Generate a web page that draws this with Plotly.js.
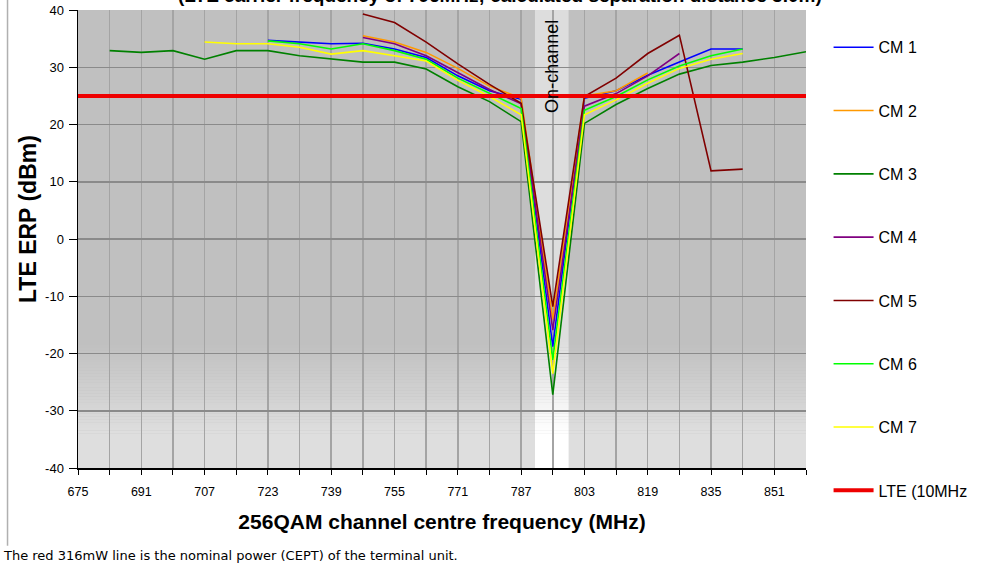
<!DOCTYPE html>
<html><head><meta charset="utf-8">
<script src="https://cdn.plot.ly/plotly-3.0.1.min.js"></script>
<style>html,body{margin:0;padding:0;background:#fff;}#chart{width:982px;height:564px;}</style>
</head><body><div id="chart"></div>
<script>
const freq = [675,683,691,699,707,715,723,731,739,747,755,763,771,779,787,795,803,811,819,827,835,843,851,859];
const tickLabels = ['675','691','707','723','739','755','771','787','803','819','835','851'];
const tickPos = [675,691,707,723,739,755,771,787,803,819,835,851];
const yTickVals = [-40,-30,-20,-10,0,10,20,30,40];
const yTickLabels = ['-40','-30','-20','-10','0','10','20','30','40'];
const N = null;
const cm1 = [N,N,N,N,N,N,34.7,34.4,34.1,34.2,33.2,31.7,28.5,25.9,24.4,-18.8,24.6,25.9,28.6,30.9,33.2,33.2,N,N];
const cm2 = [N,N,N,N,N,N,N,N,N,35.5,34.4,32.6,29.8,26.7,24.6,-14.1,25.0,25.9,29.0,N,N,N,N,N];
const cm3 = [N,32.9,32.6,32.9,31.4,32.9,32.9,32.0,31.4,30.9,30.9,29.7,26.6,24.0,20.5,-27.2,20.2,23.5,26.3,28.8,30.3,30.9,31.7,32.7];
const cm4 = [N,N,N,N,N,N,N,N,N,35.2,34.1,32.0,29.0,26.1,23.6,-15.9,23.2,25.4,28.5,32.4,N,N,N,N];
const cm5 = [N,N,N,N,N,N,N,N,N,39.3,37.8,34.4,30.6,27.0,23.7,-11.8,24.9,28.1,32.4,35.6,11.9,12.2,N,N];
const cm6 = [N,N,N,N,N,N,34.6,34.1,33.2,34.1,32.9,31.4,28.1,25.4,22.8,-21.1,22.5,24.9,27.8,30.2,32.0,33.2,N,N];
const cm7 = [N,N,N,N,34.4,34.1,34.1,33.5,32.3,32.9,32.0,31.1,27.7,24.9,21.7,-23.5,21.7,24.3,27.2,29.8,31.4,32.4,N,N];
const lte = [25,25,25,25,25,25,25,25,25,25,25,25,25,25,25,25,25,25,25,25,25,25,25,25];
const seriesNames = ['CM 1','CM 2','CM 3','CM 4','CM 5','CM 6','CM 7','LTE (10MHz'];
const seriesColors = ['#0000ff','#ff9900','#008000','#800080','#800000','#00ff00','#ffff00','#ee0000'];
const seriesData = [cm1,cm2,cm3,cm4,cm5,cm6,cm7,lte];

const traces = seriesData.map((d,i)=>({
  x: freq, y: d, type:'scatter', mode:'lines', name: seriesNames[i],
  legendgroup: 'g'+i,
  line:{color: seriesColors[i], width: i===7?4:1.6},
  connectgaps:false, hoverinfo:'skip'
}));

// background gradient bands (style only)
const shapes = [];
const bandL = 790.5, bandR = 799;
function grey(v){v=Math.round(Math.min(255,v));return 'rgb('+v+','+v+','+v+')';}
const gTop=-18, gBot=-34, steps=32;
shapes.push({type:'rect',xref:'x',yref:'y',x0:bandL,x1:bandR,y0:gTop,y1:40,fillcolor:grey(221),line:{width:0},layer:'below'});
for(let k=0;k<steps;k++){
  const y1 = gTop + (gBot-gTop)*k/steps, y0 = gTop + (gBot-gTop)*(k+1)/steps;
  const t=(k+0.5)/steps;
  shapes.push({type:'rect',xref:'paper',yref:'y',x0:0,x1:1,y0:y0,y1:y1,fillcolor:grey(192+30*t),line:{width:0},layer:'below'});
  shapes.push({type:'rect',xref:'x',yref:'y',x0:bandL,x1:bandR,y0:y0,y1:y1,fillcolor:grey(221+34*t),line:{width:0},layer:'below'});
}
shapes.push({type:'rect',xref:'paper',yref:'y',x0:0,x1:1,y0:-40,y1:gBot,fillcolor:grey(222),line:{width:0},layer:'below'});
shapes.push({type:'rect',xref:'x',yref:'y',x0:bandL,x1:bandR,y0:-40,y1:gBot,fillcolor:grey(255),line:{width:0},layer:'below'});
// chart frame line on the left
shapes.push({type:'line',xref:'paper',yref:'paper',x0:-0.0968,x1:-0.0968,y0:-0.17,y1:1.03,line:{color:'#b0b0b0',width:1.5}});

const font = 'Liberation Sans, Arial, sans-serif';
const layout = {
  width:982, height:564,
  margin:{l:78,r:176,t:10,b:96,autoexpand:false},
  paper_bgcolor:'#ffffff', plot_bgcolor:'#c0c0c0',
  font:{family:font,color:'#000',size:12},
  showlegend:true,
  legend:{x:1.031,y:0.9556,xanchor:'left',yanchor:'top',traceorder:'grouped',tracegroupgap:39.5,maxheight:560,
          font:{family:font,size:16,color:'#000'},bgcolor:'rgba(0,0,0,0)',itemwidth:40},
  xaxis:{range:[675,859],tickmode:'array',tickvals:tickPos,ticktext:tickLabels,
         showgrid:true,gridcolor:'#a4a4a4',gridwidth:1.5,
         ticks:'outside',ticklen:5,tickcolor:'#000',showline:true,linecolor:'#000',linewidth:1.5,
         ticklabelstandoff:6,zeroline:false,
         minor:{dtick:8,tick0:675,showgrid:true,gridcolor:'#a4a4a4',gridwidth:1.5,ticks:'outside',ticklen:5,tickcolor:'#000'},
         tickfont:{size:12.5,family:font},
         title:{text:'256QAM channel centre frequency (MHz)',font:{size:21,family:font,weight:'bold'},standoff:17}},
  yaxis:{range:[-40,40],tickmode:'array',tickvals:yTickVals,ticktext:yTickLabels,showgrid:true,gridcolor:'#8a8a8a',gridwidth:1.5,
         ticks:'outside',ticklen:8,tickcolor:'#000',showline:true,linecolor:'#000',linewidth:1.5,zeroline:false,
         ticklabelstandoff:2,
         tickfont:{size:13,family:font}},
  shapes: shapes,
  annotations:[
    {text:'LTE ERP (dBm)',xref:'paper',yref:'paper',x:-0.0687,y:0.5437,textangle:-90,xanchor:'center',yanchor:'middle',
     showarrow:false,font:{size:23,family:font,weight:'bold',color:'#000'}},
    {text:'On-channel',xref:'x',yref:'y',x:794.6,y:30.1,textangle:-90,showarrow:false,font:{size:18,family:font,color:'#000'}},
    {text:'(LTE carrier frequency of 796MHz; calculated separation distance 3.0m)',xref:'paper',yref:'paper',x:0.58,y:1.0044,
     xanchor:'center',yanchor:'bottom',showarrow:false,font:{size:19,family:font,weight:'bold',color:'#000'}},
    {text:'The red 316mW line is the nominal power (CEPT) of the terminal unit.',xref:'paper',yref:'paper',
     x:-0.106,y:-0.191,xanchor:'left',yanchor:'middle',showarrow:false,font:{size:13,family:'DejaVu Sans, sans-serif',color:'#000'}}
  ]
};
Plotly.newPlot('chart',traces,layout,{displayModeBar:false,staticPlot:true});
</script></body></html>
